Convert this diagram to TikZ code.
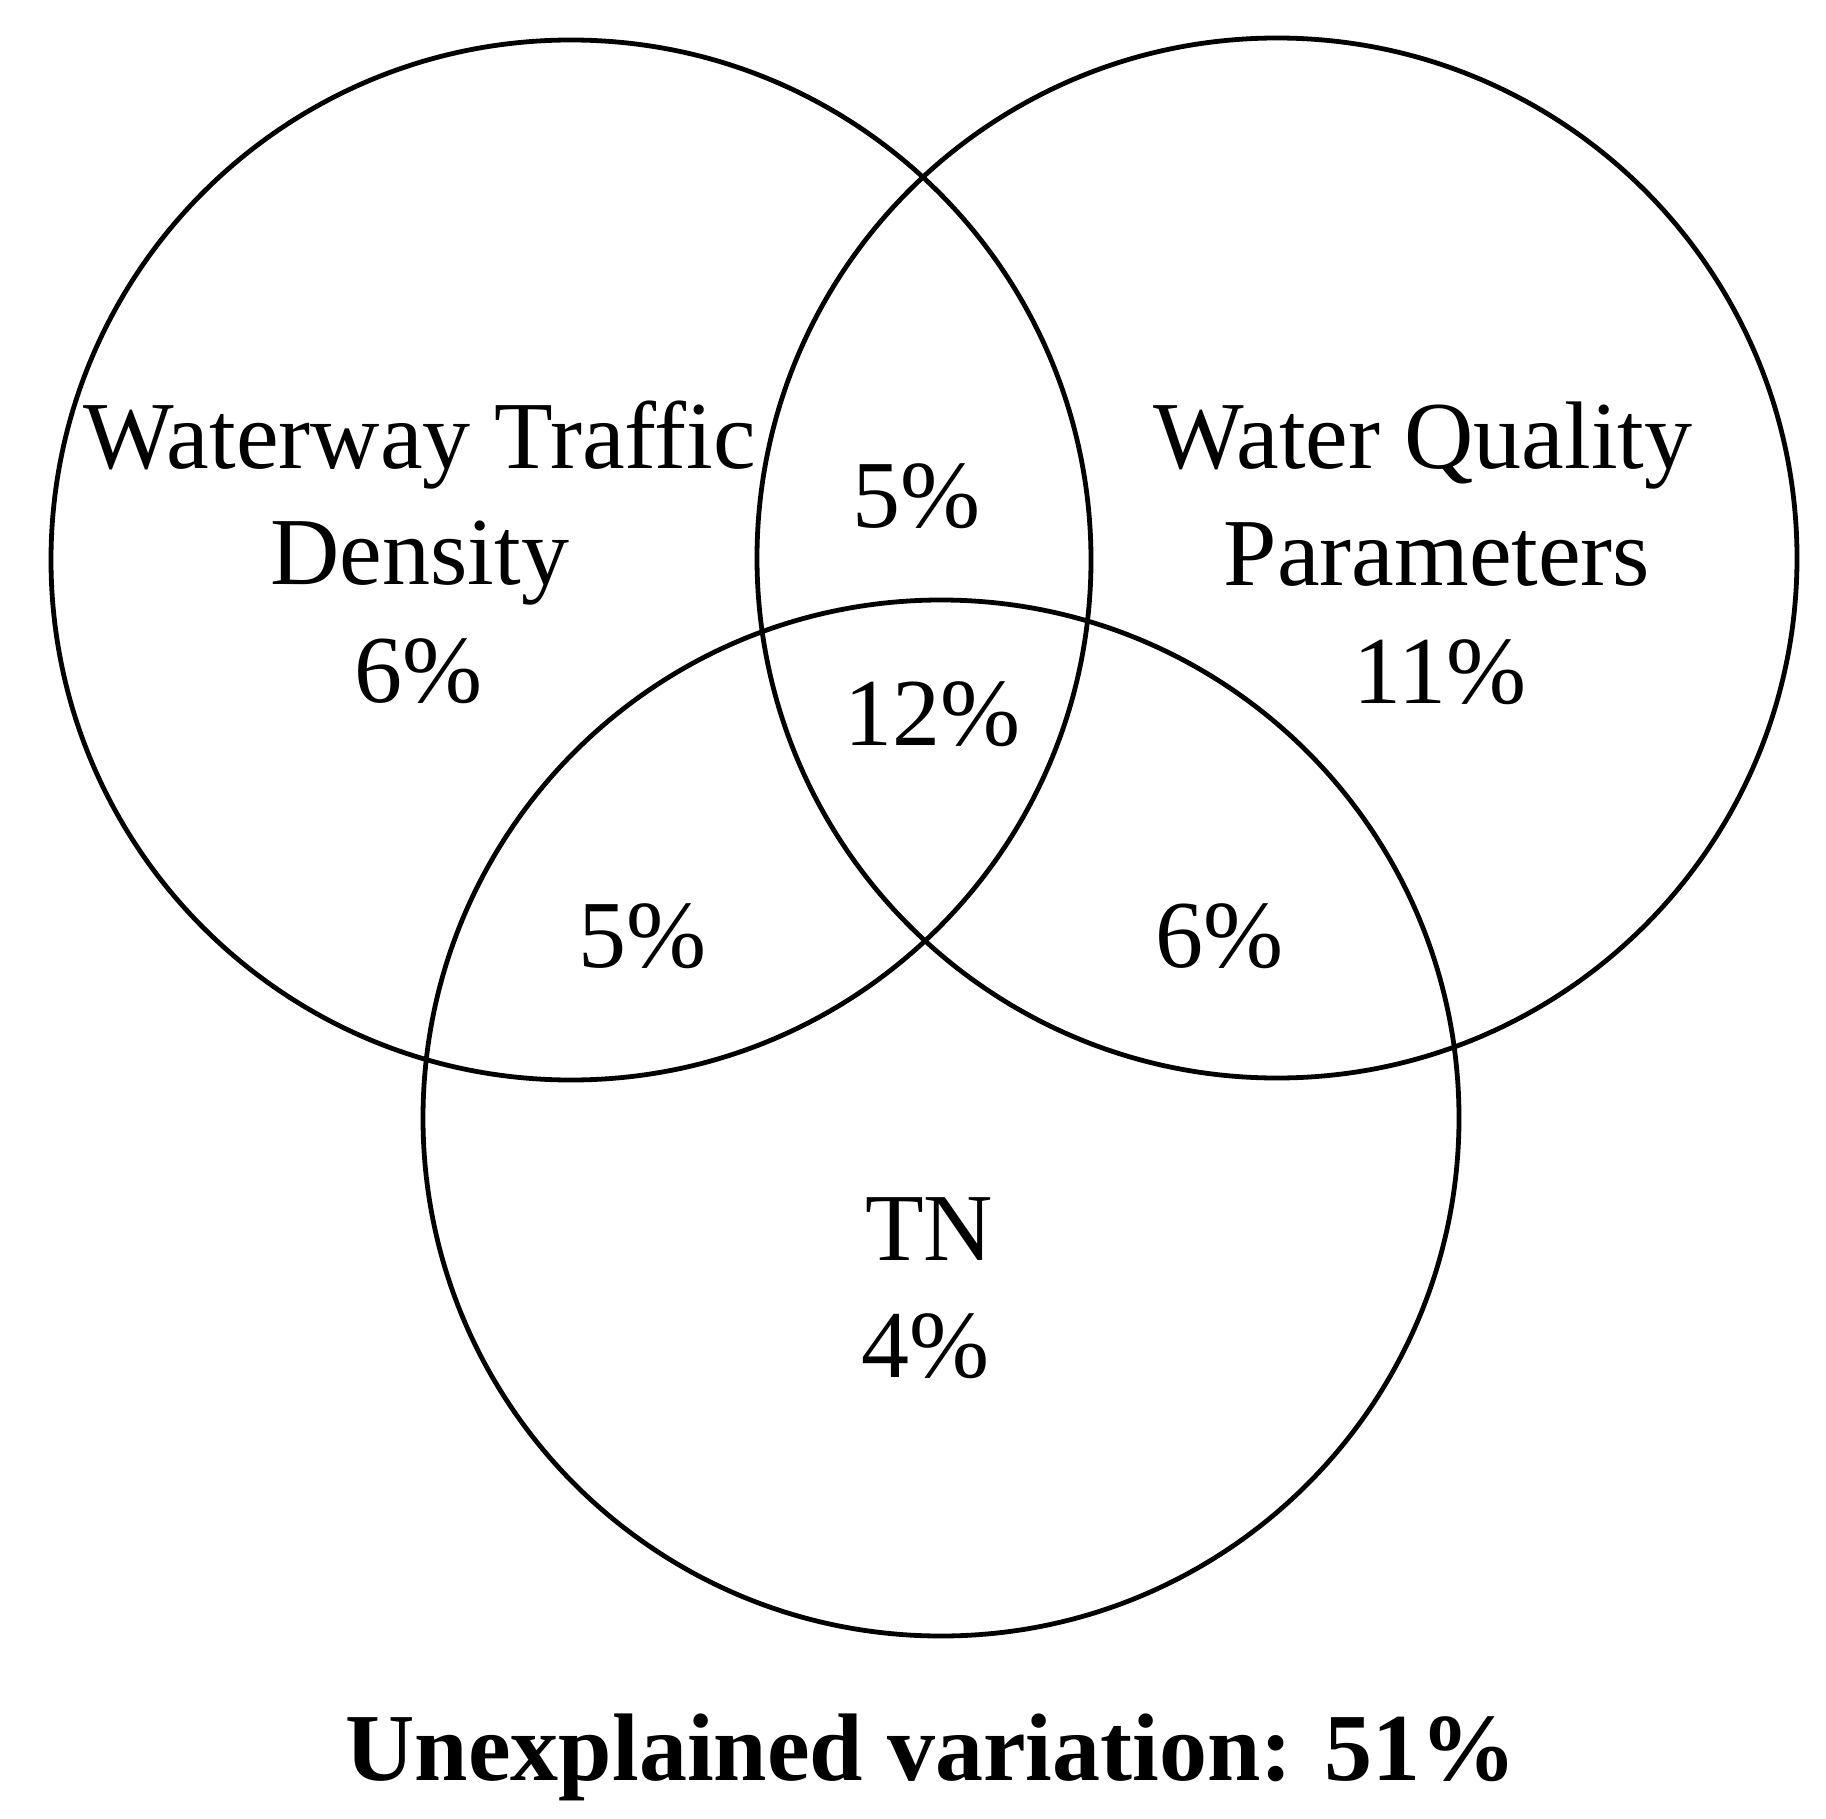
\documentclass[tikz,border=0pt]{standalone}
\usepackage{fontspec}
\setmainfont{Liberation Serif}
\tikzset{
  venn/.style={draw=black, line width=2.4pt},
  lbl/.style={anchor=base, inner sep=0pt, font=\fontsize{48pt}{58pt}\selectfont},
  bigl/.style={anchor=base, inner sep=0pt, font=\fontsize{48pt}{58pt}\selectfont\bfseries}
}
\begin{document}
\begin{tikzpicture}[x=0.5pt,y=-0.5pt]
\useasboundingbox (0,0) rectangle (1826,1819);
\fill[white] (0,0) rectangle (1826,1819);
% circles
\coordinate (cA) at (571,560);
\coordinate (cB) at (1277,558);
\coordinate (cC) at (941,1118);
\draw[venn] (cA) circle[radius=260pt];
\draw[venn] (cB) circle[radius=260pt];
\draw[venn] (cC) circle[radius=259pt];
% left circle
\node[lbl] (wt1) at (420,468) {Waterway Traffic};
\node[lbl] (wt2) at (420,584) {Density};
\node[lbl] (wt3) at (418,702) {6\%};
% right circle
\node[lbl] (wq1) at (1423,468) {Water Quality};
\node[lbl] (wq2) at (1437,585) {Parameters};
\node[lbl] (wq3) at (1440,703) {11\%};
% overlaps
\node[lbl] (ab) at (916,527) {5\%};
\node[lbl] (abc) at (932,745) {12\%};
\node[lbl] (ac) at (642,967) {5\%};
\node[lbl] (bc) at (1219,967) {6\%};
% bottom circle
\node[lbl] (tn1) at (929,1260) {TN};
\node[lbl] (tn2) at (925,1377) {4\%};
% unexplained
\node[bigl] (unex) at (931,1780) {Unexplained variation: 51\%};
\end{tikzpicture}
\end{document}
